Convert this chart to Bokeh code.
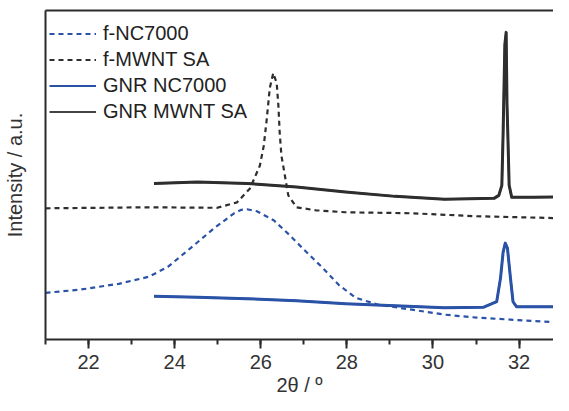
from bokeh.plotting import figure
from bokeh.models import Range1d, LinearAxis, SingleIntervalTicker, Legend, LegendItem, Title
from bokeh.embed import file_html
from bokeh.resources import INLINE

# ---- data (2theta in degrees, intensity in arbitrary units) ----
f_nc_x = [21.0, 21.78, 22.70, 23.39, 23.84, 24.37, 24.92, 25.38, 25.55, 25.68, 25.91, 26.30,
          26.67, 27.06, 27.44, 27.81, 28.20, 28.73, 29.51, 30.27, 31.02, 31.80, 32.56, 33.0]
f_nc_y = [47, 50, 56, 63, 73, 92, 112, 127, 130.5, 131, 129, 120,
          105, 88, 72, 55, 42, 35, 30, 25, 22, 20, 18, 17]

f_mw_x = [21.0, 23.39, 24.99, 25.45, 25.75, 25.98, 26.07, 26.14, 26.21, 26.29, 26.37, 26.41,
          26.44, 26.48, 26.56, 26.64, 26.83, 27.28, 27.97, 29.51, 31.02, 33.0]
f_mw_y = [132, 133, 132.5, 138, 152, 175, 195, 222, 253, 268, 258, 235,
          208, 185, 165, 145, 133, 130, 128, 127, 124, 122]

gnr_nc_x = [23.52, 24.53, 25.68, 26.83, 27.97, 29.12, 30.27, 31.18, 31.48, 31.57, 31.63,
            31.68, 31.73, 31.80, 31.86, 31.94, 33.0]
gnr_nc_y = [43.5, 42.5, 41, 39, 36, 34, 32, 32.5, 38, 62, 88,
            97, 92, 62, 38, 33, 33]

gnr_mw_x = [23.52, 24.53, 25.68, 26.83, 27.97, 29.12, 30.27, 31.42, 31.53, 31.60, 31.63,
            31.67, 31.70, 31.72, 31.74, 31.77, 31.83, 32.33, 33.0]
gnr_mw_y = [157, 158.5, 157, 153.5, 148.5, 144, 141, 142, 145, 155, 208,
            297, 309, 237, 205, 155, 143, 143, 143.5]

labels = ["f-NC7000", "f-MWNT SA", "GNR NC7000", "GNR MWNT SA"]
x_title = "2θ / º"
y_title = "Intensity / a.u."

BLUE = "#2a52a6"
DARK = "#2e2e2e"
AXC = "#2b2b2b"
FONT = "Liberation Sans"

p = figure(width=553, height=395, output_backend="svg", toolbar_location=None,
           x_range=Range1d(21, 32.8), y_range=Range1d(0, 331),
           min_border_left=42, min_border_right=0, min_border_top=10, min_border_bottom=0,
           x_axis_location=None, y_axis_location=None)
p.outline_line_color = None
p.xgrid.visible = False
p.ygrid.visible = False
p.background_fill_color = "white"
p.border_fill_color = "white"

# bottom axis
xa = LinearAxis(ticker=SingleIntervalTicker(interval=2, num_minor_ticks=2))
xa.axis_line_color = AXC
xa.axis_line_width = 2
xa.major_tick_line_color = AXC
xa.major_tick_line_width = 2
xa.major_tick_out = 9
xa.major_tick_in = 0
xa.minor_tick_line_color = AXC
xa.minor_tick_line_width = 2
xa.minor_tick_out = 5
xa.minor_tick_in = 0
xa.major_label_standoff = 6
xa.major_label_text_font = FONT
xa.major_label_text_font_size = "20px"
xa.major_label_text_color = "#333333"
p.add_layout(xa, "below")

# x title as a bottom title panel
xt = Title(text=x_title, align="center", standoff=0,
           text_font=FONT, text_font_size="20px", text_font_style="normal",
           text_color="#333333")
p.add_layout(xt, "below")

# left axis (line + label only)
ya = LinearAxis()
ya.axis_label = y_title
ya.axis_line_color = AXC
ya.axis_line_width = 2
ya.major_tick_line_color = None
ya.minor_tick_line_color = None
ya.major_label_text_font_size = "0px"
ya.major_label_text_alpha = 0
ya.axis_label_text_font = FONT
ya.axis_label_text_font_size = "20px"
ya.axis_label_text_font_style = "normal"
ya.axis_label_text_color = "#333333"
ya.axis_label_standoff = 14
p.add_layout(ya, "left")

# top frame line
ta = LinearAxis()
ta.axis_line_color = AXC
ta.axis_line_width = 2
ta.major_tick_line_color = None
ta.minor_tick_line_color = None
ta.major_label_text_font_size = "0px"
ta.major_label_text_alpha = 0
p.add_layout(ta, "above")

# thin versions of the solid curves (legend samples, hidden beneath the thick ones)
l3 = p.line(gnr_nc_x, gnr_nc_y, line_color=BLUE, line_width=2)
l4 = p.line(gnr_mw_x, gnr_mw_y, line_color="#444444", line_width=2)

# data
r1 = p.line(f_nc_x, f_nc_y, line_color=BLUE, line_width=2.2, line_dash="5 4")
r2 = p.line(f_mw_x, f_mw_y, line_color=DARK, line_width=2.2, line_dash="5 4")
r3 = p.line(gnr_nc_x, gnr_nc_y, line_color=BLUE, line_width=3, line_join="round")
r4 = p.line(gnr_mw_x, gnr_mw_y, line_color=DARK, line_width=3, line_join="round")

legend = Legend(items=[LegendItem(label=labels[0], renderers=[r1]),
                       LegendItem(label=labels[1], renderers=[r2]),
                       LegendItem(label=labels[2], renderers=[l3]),
                       LegendItem(label=labels[3], renderers=[l4])],
                location=(4, 215))
legend.background_fill_alpha = 0
legend.border_line_color = None
legend.margin = 0
legend.padding = 7
legend.spacing = 1
legend.glyph_width = 47
legend.glyph_height = 25
legend.label_height = 25
legend.label_standoff = 7
legend.label_text_font = FONT
legend.label_text_font_size = "20px"
legend.label_text_color = "#222222"
p.add_layout(legend, "center")

open("out.html", "w").write(file_html(p, INLINE))
